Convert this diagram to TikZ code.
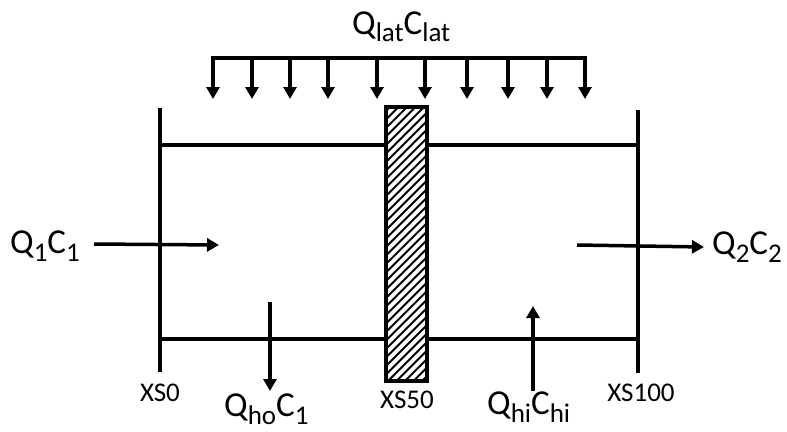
\documentclass[tikz,border=0pt]{standalone}
\usepackage{fontspec}
\setmainfont{Carlito}
\usetikzlibrary{arrows.meta}
\newcommand\mysub[1]{\raisebox{-8pt}{\fontsize{27}{27}\selectfont #1}}
\tikzset{
  lbl/.style={inner sep=0pt, font=\fontsize{35}{38}\selectfont},
  xslbl/.style={inner sep=0pt, font=\fontsize{27}{30}\selectfont, anchor=base},
  bound/.style={line width=4.5pt},
  bank/.style={line width=3.5pt},
  flow/.style={line width=3.5pt, -{Triangle[width=13pt,length=12pt]}},
  latbar/.style={line width=3.5pt},
}
\begin{document}
\begin{tikzpicture}[x=1pt,y=-1pt]
\useasboundingbox (0,0) rectangle (787,431);
% cross sections
\coordinate (l0) at (160,108);
\coordinate (l1) at (160,372);
\coordinate (r0) at (638,110);
\coordinate (r1) at (638,373);
\draw[bound] (l0) -- (l1);
\draw[bound] (r0) -- (r1);
% banks
\coordinate (tl) at (160,145);
\coordinate (tw1) at (385,145);
\coordinate (tw2) at (428,145);
\coordinate (tr) at (638,145);
\coordinate (bl) at (160,339);
\coordinate (bw1) at (385,339);
\coordinate (bw2) at (428,339);
\coordinate (br) at (638,339);
\draw[bank] (tl) -- (tw1) (tw2) -- (tr);
\draw[bank] (bl) -- (bw1) (bw2) -- (br);
% hatched wall
\coordinate (w0) at (386,107);
\coordinate (w1) at (427,381);
\begin{scope}
\clip (w0) rectangle (w1);
\foreach \k in {0,...,44}{
  \draw[line width=1.8pt] (380,{100+\k*8.5}) -- (440,{40+\k*8.5});
}
\end{scope}
\draw[line width=3.5pt] (w0) rectangle (w1);
% lateral inflow
\node[lbl, anchor=base west] (qlat) at (352,34) {Q\mysub{lat}C\mysub{lat}};
\coordinate (lb0) at (211,58);
\coordinate (lb1) at (587,58);
\draw[latbar] (lb0) -- (lb1);
\foreach \x in {213,252,290,328,377,425,467,508,547,585}{
  \coordinate (la\x) at (\x,58);
  \coordinate (lz\x) at (\x,99);
  \draw[flow] (la\x) -- (lz\x);
}
% inflow / outflow
\node[lbl, anchor=base west] (q1) at (10,253) {Q\mysub{1}C\mysub{1}};
\coordinate (a1s) at (94,244);
\coordinate (a1e) at (219,245);
\draw[flow] (a1s) -- (a1e);
\node[lbl, anchor=base west] (q2) at (712,254) {Q\mysub{2}C\mysub{2}};
\coordinate (a2s) at (577,245);
\coordinate (a2e) at (704,247);
\draw[flow] (a2s) -- (a2e);
% hyporheic
\node[lbl, anchor=base west] (qho) at (224,416) {Q\mysub{ho}C\mysub{1}};
\coordinate (hos) at (270,302);
\coordinate (hoe) at (270,391);
\draw[flow] (hos) -- (hoe);
\node[lbl, anchor=base west] (qhi) at (487,414) {Q\mysub{hi}C\mysub{hi}};
\coordinate (his) at (533,391);
\coordinate (hie) at (533,306);
\draw[flow] (his) -- (hie);
% section labels
\node[xslbl] (xs0) at (160,401) {XS0};
\node[xslbl] (xs50) at (407,408) {XS50};
\node[xslbl] (xs100) at (641,401) {XS100};
\end{tikzpicture}
\end{document}
